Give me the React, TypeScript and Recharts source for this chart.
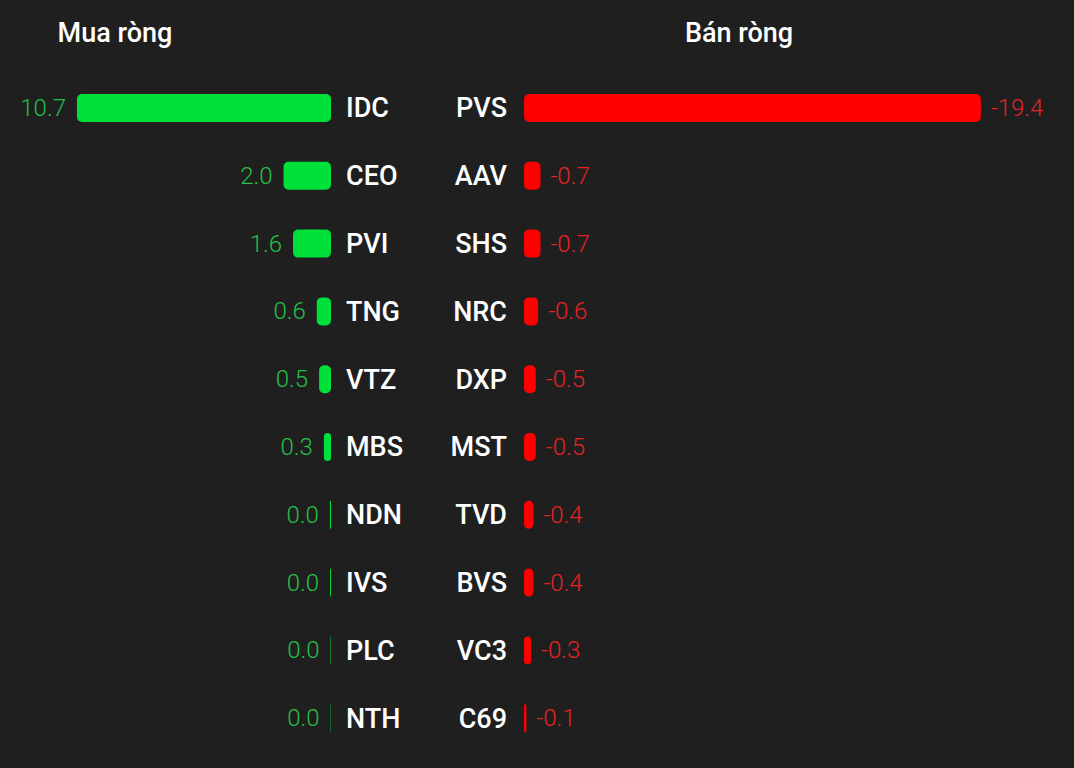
import { BarChart, Bar, XAxis, YAxis, LabelList } from 'recharts';

const buyTickers = ['IDC', 'CEO', 'PVI', 'TNG', 'VTZ', 'MBS', 'NDN', 'IVS', 'PLC', 'NTH'];
const buyValues = [10.7, 2.0, 1.6, 0.6, 0.5, 0.3, 0.045, 0.04, 0.02, 0.015];

const sellTickers = ['PVS', 'AAV', 'SHS', 'NRC', 'DXP', 'MST', 'TVD', 'BVS', 'VC3', 'C69'];
const sellValues = [-19.4, -0.7, -0.7, -0.6, -0.5, -0.5, -0.4, -0.4, -0.3, -0.1];

const BG = '#1f1f1f';
const GREEN = '#00e03a';
const GREEN_TEXT = '#25c04a';
const RED = '#ff0000';
const RED_TEXT = '#e82222';
const FONT = 'Roboto, "Noto Sans", sans-serif';

const buyData = buyTickers.map((t, i) => ({ ticker: t, value: buyValues[i] }));
const sellData = sellTickers.map((t, i) => ({ ticker: t, value: sellValues[i] }));

const tickStyle = { fill: '#ffffff', fontSize: 27, fontWeight: 500, fontFamily: FONT };

function BuyLabel(props: any) {
    const { x, y, width, height, value } = props;
    const left = Math.min(x, x + width);
    return (
        <text x={left - 11} y={y + height / 2} dy={8} textAnchor="end" fill={GREEN_TEXT} fontSize={24} fontWeight={300} fontFamily={FONT}>
            {Number(value).toFixed(1)}
        </text>
    );
}

function SellLabel(props: any) {
    const { x, y, width, height, value } = props;
    const right = Math.max(x, x + width);
    return (
        <text x={right + 10} y={y + height / 2} dy={8} textAnchor="start" fill={RED_TEXT} fontSize={24} fontWeight={300} fontFamily={FONT}>
            {Number(value).toFixed(1)}
        </text>
    );
}

const titleStyle: React.CSSProperties = {
    position: 'absolute',
    top: 17,
    color: '#ffffff',
    fontSize: 27,
    fontWeight: 500,
    fontFamily: FONT,
    width: 200,
    textAlign: 'center',
};

export default function App() {
    return (
        <div style={{ position: 'relative', width: 1074, height: 768, background: BG, overflow: 'hidden' }}>
            <style>{`body{margin:0;background:${BG};}`}</style>
            <div style={{ ...titleStyle, left: 15 }}>Mua ròng</div>
            <div style={{ ...titleStyle, left: 639 }}>Bán ròng</div>

            <div style={{ position: 'absolute', left: 0, top: 0 }}>
                <BarChart width={440} height={768} data={buyData} layout="vertical" margin={{ top: 74, right: 0, bottom: 16, left: 20 }}>
                    <XAxis type="number" domain={[0, 13.1]} reversed hide allowDataOverflow />
                    <YAxis type="category" dataKey="ticker" orientation="right" width={109} axisLine={false} tickLine={false} tickMargin={9} tick={tickStyle} />
                    <Bar dataKey="value" fill={GREEN} barSize={28} radius={5} isAnimationActive={false}>
                        <LabelList dataKey="value" content={BuyLabel} />
                    </Bar>
                </BarChart>
            </div>

            <div style={{ position: 'absolute', left: 420, top: 0 }}>
                <BarChart width={654} height={768} data={sellData} layout="vertical" margin={{ top: 74, right: 79, bottom: 16, left: 0 }}>
                    <XAxis type="number" domain={[-20, 0]} reversed hide allowDataOverflow />
                    <YAxis type="category" dataKey="ticker" orientation="left" width={104} axisLine={false} tickLine={false} tickMargin={11} tick={tickStyle} />
                    <Bar dataKey="value" fill={RED} barSize={28} radius={5} isAnimationActive={false}>
                        <LabelList dataKey="value" content={SellLabel} />
                    </Bar>
                </BarChart>
            </div>
        </div>
    );
}
